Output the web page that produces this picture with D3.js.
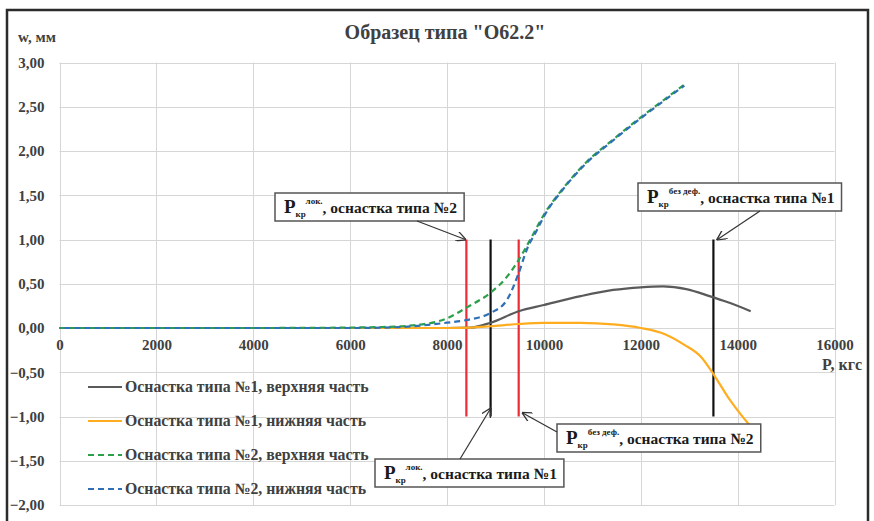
<!DOCTYPE html>
<html>
<head>
<meta charset="utf-8">
<script src="https://cdn.jsdelivr.net/npm/d3@7"></script>
<style>
  body { margin: 0; background: #fff; }
  svg text { font-family: "Liberation Serif", "Times New Roman", serif; font-weight: bold; }
</style>
</head>
<body>
<svg id="main-svg" width="874" height="521"></svg>
<script>
// ---- data ----
const xTicks = [0, 2000, 4000, 6000, 8000, 10000, 12000, 14000, 16000];
const yTicks = [3, 2.5, 2, 1.5, 1, 0.5, 0, -0.5, -1, -1.5, -2];

const seriesNames = [
  'Оснастка типа №1, верхняя часть',
  'Оснастка типа №1, нижняя часть',
  'Оснастка типа №2, верхняя часть',
  'Оснастка типа №2, нижняя часть'
];

const pGray = [0, 2000, 4000, 6000, 7000, 8000, 8500, 8900, 9480, 10000, 10760, 11430, 12000, 12460, 12940, 13420, 13800, 14270];
const wGray = [0, 0, 0, 0, 0, 0, 0.005, 0.06, 0.19, 0.26, 0.36, 0.43, 0.46, 0.47, 0.44, 0.36, 0.29, 0.19];

const pOrange = [0, 2000, 4000, 6000, 8000, 8500, 8900, 9480, 10000, 10760, 11430, 12000, 12500, 12900, 13250, 13500, 13800, 14000, 14250];
const wOrange = [0, 0, 0, 0, 0, 0.005, 0.02, 0.045, 0.057, 0.057, 0.04, 0, -0.07, -0.19, -0.33, -0.52, -0.78, -0.93, -1.1];

const pGreen = [0, 2000, 4000, 6000, 6600, 7300, 8000, 8400, 8900, 9240, 9480, 9720, 10000, 10400, 10870, 11430, 12000, 12460, 12900];
const wGreen = [0, 0, 0, 0.005, 0.01, 0.03, 0.11, 0.23, 0.40, 0.58, 0.77, 1.0, 1.28, 1.58, 1.87, 2.13, 2.38, 2.57, 2.75];

const pBlue = [0, 2000, 4000, 6000, 7000, 8000, 8400, 8900, 9240, 9480, 9650, 9860, 10000, 10400, 10870, 11430, 12000, 12460, 12900];
const wBlue = [0, 0, 0, 0, 0.01, 0.06, 0.09, 0.17, 0.32, 0.62, 0.89, 1.11, 1.26, 1.57, 1.86, 2.12, 2.37, 2.56, 2.74];

// critical loads (vertical markers from w = 1 to w = -1)
const markerP = [8400, 8900, 9480, 13500];
const markerRig = [2, 1, 2, 1];

// annotation texts: superscript and rig number
const noteSup = ['лок.', 'без деф.', 'без деф.', 'лок.'];
const noteRig = [2, 1, 2, 1];
const noteTargetP = [8400, 13500, 9480, 8900];
const noteTargetW = [1, 1, -0.96, -0.91];

// ---- layout ----
const svg = d3.select('#main-svg');
const x = d3.scaleLinear().domain([0, 16000]).range([59.5, 834.5]);
const y = d3.scaleLinear().domain([-2, 3]).range([505, 62.5]);
const comma = v => d3.format('.2f')(v).replace('.', ',');

const seriesColor = ['#5a5a5a', '#ffad1f', '#2ca048', '#2e6fb5'];
const seriesDash = [null, null, '6,4', '6,4'];
const seriesDashOffset = [0, 0, 0, 5];
const rigColor = { 1: '#111', 2: '#ee2a35' };

svg.append('defs').append('marker')
  .attr('id', 'arrow')
  .attr('viewBox', '0 0 10 10')
  .attr('refX', 9).attr('refY', 5)
  .attr('markerWidth', 10).attr('markerHeight', 10)
  .attr('markerUnits', 'userSpaceOnUse')
  .attr('orient', 'auto')
  .append('path')
  .attr('d', 'M0,0 L10,5 L0,10')
  .attr('fill', 'none')
  .attr('stroke', '#333')
  .attr('stroke-width', 1.3);

// outer frame
svg.append('rect')
  .attr('x', 7).attr('y', 10)
  .attr('width', 861).attr('height', 530)
  .attr('fill', '#fff')
  .attr('stroke', '#2b2b2b')
  .attr('stroke-width', 2.5);

// grid
svg.append('g')
  .selectAll('line')
  .data(yTicks)
  .enter().append('line')
  .attr('x1', x(0)).attr('x2', x(16000))
  .attr('y1', d => Math.round(y(d)) + 0.5).attr('y2', d => Math.round(y(d)) + 0.5)
  .attr('stroke', '#d6d6d6');

svg.append('g')
  .selectAll('line')
  .data(xTicks)
  .enter().append('line')
  .attr('y1', y(3)).attr('y2', y(-2))
  .attr('x1', d => Math.round(x(d)) + 0.5).attr('x2', d => Math.round(x(d)) + 0.5)
  .attr('stroke', '#d6d6d6');

// axes
const yAxis = svg.append('g')
  .attr('transform', `translate(${x(0)},0)`)
  .call(d3.axisLeft(y).tickValues(yTicks).tickSize(0).tickPadding(15).tickFormat(comma));
yAxis.select('.domain').remove();
yAxis.selectAll('text').attr('font-size', 15).attr('fill', '#404040');

const xAxis = svg.append('g')
  .attr('transform', `translate(0,${y(0)})`)
  .call(d3.axisBottom(x).tickValues(xTicks).tickSize(0).tickPadding(11).tickFormat(d3.format('d')));
xAxis.select('.domain').remove();
xAxis.selectAll('text').attr('font-size', 15).attr('fill', '#404040');

// titles
svg.append('text')
  .attr('x', 445).attr('y', 39)
  .attr('text-anchor', 'middle')
  .attr('font-size', 20)
  .attr('fill', '#404040')
  .text('Образец типа "О62.2"');

svg.append('text')
  .attr('x', 18).attr('y', 42)
  .attr('font-size', 15)
  .attr('fill', '#404040')
  .text('w, мм');

svg.append('text')
  .attr('x', 862).attr('y', 370)
  .attr('text-anchor', 'end')
  .attr('font-size', 16)
  .attr('fill', '#404040')
  .text('P, кгс');

// vertical markers
svg.append('g')
  .selectAll('line')
  .data(markerP)
  .enter().append('line')
  .attr('x1', d => x(d)).attr('x2', d => x(d))
  .attr('y1', y(1)).attr('y2', y(-1))
  .attr('stroke', (d, i) => rigColor[markerRig[i]])
  .attr('stroke-width', 2.2);

// curves
const series = [
  pGray.map((p, i) => [p, wGray[i]]),
  pOrange.map((p, i) => [p, wOrange[i]]),
  pGreen.map((p, i) => [p, wGreen[i]]),
  pBlue.map((p, i) => [p, wBlue[i]])
];

const line = d3.line()
  .x(d => x(d[0]))
  .y(d => y(d[1]))
  .curve(d3.curveMonotoneX);

svg.append('g')
  .selectAll('path')
  .data(series)
  .enter().append('path')
  .attr('d', line)
  .attr('fill', 'none')
  .attr('stroke', (d, i) => seriesColor[i])
  .attr('stroke-width', 2.2)
  .attr('stroke-dasharray', (d, i) => seriesDash[i])
  .attr('stroke-dashoffset', (d, i) => seriesDashOffset[i]);

// legend
const legend = svg.append('g')
  .selectAll('g')
  .data(seriesNames)
  .enter().append('g')
  .attr('transform', (d, i) => `translate(88,${387 + i * 34})`);

legend.append('line')
  .attr('x1', 0).attr('x2', 34)
  .attr('stroke', (d, i) => seriesColor[i])
  .attr('stroke-width', 2.2)
  .attr('stroke-dasharray', (d, i) => seriesDash[i]);

legend.append('text')
  .attr('x', 37).attr('y', 5)
  .attr('font-size', 15.8)
  .attr('fill', '#404040')
  .text(d => d);

// annotation boxes
const boxPos = [[275, 193], [638, 183], [557, 424], [375, 459]];
const arrowFrom = [[417, 221], [760, 211], [557, 432], [460, 459]];
const tipShift = [-1, 4, 4, 0];

noteSup.forEach((sup, i) => {
  const g = svg.append('g');
  const rect = g.append('rect')
    .attr('fill', '#fff')
    .attr('stroke', '#555')
    .attr('stroke-width', 1.5);
  const t = g.append('text')
    .attr('x', boxPos[i][0] + 9)
    .attr('y', boxPos[i][1] + 20)
    .attr('fill', '#1a1a1a');
  t.append('tspan').attr('font-size', 19).text('P');
  t.append('tspan').attr('font-size', 9).attr('dy', 4).text('кр');
  t.append('tspan').attr('font-size', 9).attr('dy', -13).text(sup);
  t.append('tspan').attr('font-size', 15.5).attr('dy', 9).text(', оснастка типа №' + noteRig[i]);
  const bb = t.node().getBBox();
  rect.attr('x', boxPos[i][0]).attr('y', boxPos[i][1])
    .attr('width', bb.width + 16).attr('height', 28);

  svg.append('line')
    .attr('x1', arrowFrom[i][0]).attr('y1', arrowFrom[i][1])
    .attr('x2', x(noteTargetP[i]) + tipShift[i]).attr('y2', y(noteTargetW[i]))
    .attr('stroke', '#333')
    .attr('stroke-width', 1.2)
    .attr('marker-end', 'url(#arrow)');
});
</script>
</body>
</html>
